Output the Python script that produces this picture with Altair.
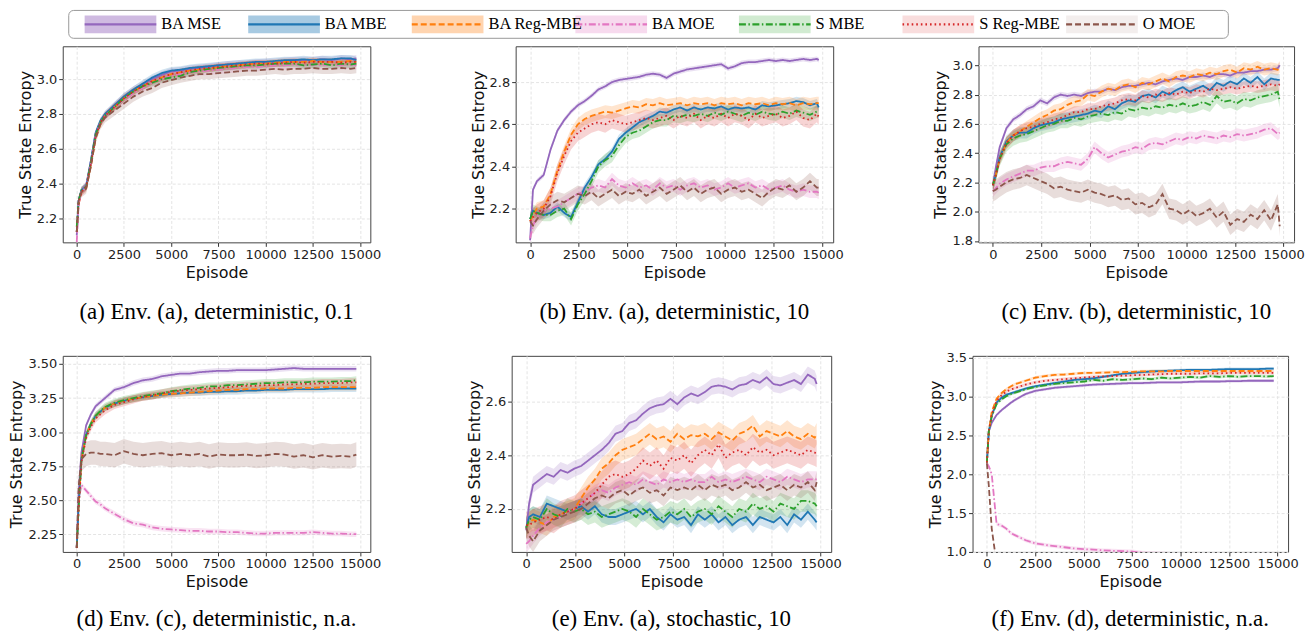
import altair as alt
import pandas as pd

SERIES = ["BA MSE", "BA MBE", "BA Reg-MBE", "BA MOE", "S MBE", "S Reg-MBE", "O MOE"]
COLORS = ["#9467bd", "#1f77b4", "#ff7f0e", "#e377c2", "#2ca02c", "#d62728", "#8c564b"]
DASHES = [[1, 0], [1, 0], [6, 3], [7, 2.5, 1.5, 2.5], [7, 2.5, 1.5, 2.5], [1.6, 3], [6, 3]]
LEGEND_BAND_OPACITY = [0.45, 0.1, 0.12, 0.3, 0.13, 0.15, 0.38]

X_TICKS = [0, 2500, 5000, 7500, 10000, 12500, 15000]

# smooth panels grid (a, d, f)
X_S = [0, 100, 250, 500, 750, 1000, 1250, 1500, 2000, 2500, 3000, 3500, 4000, 4500,
       5000, 5500, 6000, 6500, 7000, 7500, 8000, 8500, 9000, 9500, 10000, 10500,
       11000, 11500, 12000, 12500, 13000, 13500, 14000, 14500, 14800]
# noisy panels grid (b, c, e)
X_N = [0, 150, 350, 700, 1050, 1400, 1750, 2100, 2450, 2800, 3150, 3500, 3850, 4200,
       4550, 4900, 5250, 5600, 5950, 6300, 6650, 7000, 7350, 7700, 8050, 8400, 8750,
       9100, 9450, 9800, 10150, 10500, 10850, 11200, 11550, 11900, 12250, 12600,
       12950, 13300, 13650, 14000, 14350, 14700, 14800]

# ---------------- panel (a) ----------------
A_MSE = [2.10, 2.30, 2.36, 2.39, 2.53, 2.69, 2.75, 2.79, 2.85, 2.90, 2.94, 2.97, 3.00, 3.025,
         3.045, 3.05, 3.06, 3.065, 3.07, 3.08, 3.085, 3.09, 3.09, 3.095, 3.10, 3.10, 3.105,
         3.11, 3.11, 3.11, 3.115, 3.11, 3.12, 3.115, 3.12]
A_MBE = [2.12, 2.30, 2.36, 2.38, 2.53, 2.69, 2.76, 2.80, 2.85, 2.90, 2.94, 2.975, 3.01, 3.035,
         3.05, 3.055, 3.065, 3.07, 3.075, 3.08, 3.085, 3.09, 3.095, 3.10, 3.10, 3.105, 3.11,
         3.11, 3.115, 3.11, 3.115, 3.115, 3.12, 3.12, 3.11]
A_REG = [2.12, 2.28, 2.35, 2.37, 2.50, 2.66, 2.74, 2.79, 2.84, 2.89, 2.93, 2.96, 2.99, 3.01,
         3.03, 3.04, 3.05, 3.055, 3.06, 3.07, 3.075, 3.08, 3.085, 3.09, 3.09, 3.095, 3.10,
         3.10, 3.10, 3.105, 3.10, 3.10, 3.10, 3.105, 3.10]
A_MOE = [2.06, 2.28, 2.35, 2.38, 2.52, 2.68, 2.75, 2.79, 2.84, 2.88, 2.92, 2.95, 2.98, 3.00,
         3.02, 3.03, 3.04, 3.045, 3.05, 3.055, 3.06, 3.065, 3.07, 3.07, 3.075, 3.08, 3.08,
         3.085, 3.08, 3.085, 3.08, 3.085, 3.08, 3.085, 3.08]
A_SMBE = [2.15, 2.30, 2.36, 2.38, 2.52, 2.68, 2.75, 2.79, 2.84, 2.89, 2.93, 2.96, 2.98, 3.00,
          3.01, 3.02, 3.04, 3.05, 3.06, 3.065, 3.07, 3.075, 3.08, 3.08, 3.085, 3.09, 3.09,
          3.09, 3.08, 3.085, 3.09, 3.08, 3.09, 3.085, 3.09]
A_SREG = [2.12, 2.29, 2.35, 2.38, 2.51, 2.67, 2.75, 2.79, 2.84, 2.89, 2.93, 2.96, 2.99, 3.01,
          3.03, 3.04, 3.05, 3.06, 3.065, 3.07, 3.075, 3.08, 3.085, 3.09, 3.09, 3.09, 3.095,
          3.10, 3.095, 3.10, 3.10, 3.10, 3.095, 3.10, 3.10]
A_OMOE = [2.12, 2.30, 2.35, 2.37, 2.50, 2.66, 2.74, 2.78, 2.82, 2.86, 2.90, 2.93, 2.95, 2.98,
          2.995, 3.01, 3.02, 3.03, 3.03, 3.035, 3.04, 3.045, 3.05, 3.05, 3.055, 3.06, 3.055,
          3.06, 3.06, 3.065, 3.06, 3.06, 3.065, 3.06, 3.065]
A_BAND = [0.02, 0.02, 0.02, 0.025, 0.02, 0.02, 0.03]

# ---------------- panel (b) ----------------
B_MSE = [2.05, 2.29, 2.33, 2.36, 2.48, 2.57, 2.62, 2.66, 2.69, 2.71, 2.735, 2.765, 2.78, 2.80,
         2.81, 2.815, 2.82, 2.825, 2.835, 2.84, 2.835, 2.82, 2.84, 2.85, 2.86, 2.865, 2.87,
         2.875, 2.88, 2.885, 2.865, 2.875, 2.89, 2.895, 2.895, 2.90, 2.905, 2.90, 2.905, 2.90,
         2.905, 2.91, 2.905, 2.91, 2.905]
B_MBE = [2.15, 2.19, 2.18, 2.17, 2.18, 2.21, 2.18, 2.16, 2.23, 2.30, 2.35, 2.41, 2.435, 2.47,
         2.53, 2.56, 2.585, 2.61, 2.625, 2.64, 2.66, 2.655, 2.67, 2.68, 2.665, 2.68, 2.67,
         2.68, 2.675, 2.685, 2.67, 2.68, 2.675, 2.68, 2.67, 2.69, 2.685, 2.69, 2.695, 2.70,
         2.71, 2.705, 2.69, 2.70, 2.68]
B_REG = [2.14, 2.17, 2.20, 2.21, 2.27, 2.38, 2.47, 2.55, 2.60, 2.625, 2.64, 2.65, 2.66, 2.655,
         2.665, 2.675, 2.685, 2.68, 2.695, 2.69, 2.70, 2.69, 2.695, 2.70, 2.69, 2.70, 2.695,
         2.70, 2.69, 2.70, 2.695, 2.70, 2.69, 2.70, 2.695, 2.70, 2.69, 2.70, 2.695, 2.70,
         2.69, 2.70, 2.695, 2.70, 2.70]
B_MOE = [2.06, 2.12, 2.16, 2.19, 2.20, 2.21, 2.23, 2.25, 2.27, 2.28, 2.30, 2.31, 2.30, 2.34,
         2.31, 2.30, 2.32, 2.30, 2.31, 2.29, 2.32, 2.30, 2.31, 2.29, 2.31, 2.32, 2.30, 2.31,
         2.29, 2.30, 2.32, 2.30, 2.31, 2.32, 2.30, 2.31, 2.29, 2.30, 2.31, 2.29, 2.28, 2.29,
         2.28, 2.28, 2.275]
B_SMBE = [2.15, 2.19, 2.18, 2.17, 2.17, 2.19, 2.20, 2.15, 2.22, 2.27, 2.33, 2.40, 2.43, 2.45,
          2.50, 2.54, 2.56, 2.57, 2.59, 2.61, 2.62, 2.62, 2.64, 2.635, 2.645, 2.64, 2.65, 2.64,
          2.655, 2.645, 2.66, 2.65, 2.64, 2.655, 2.645, 2.66, 2.65, 2.645, 2.66, 2.65, 2.665,
          2.655, 2.645, 2.66, 2.66]
B_SREG = [2.14, 2.16, 2.18, 2.20, 2.26, 2.37, 2.45, 2.52, 2.56, 2.58, 2.60, 2.61, 2.60, 2.62,
          2.61, 2.60, 2.61, 2.62, 2.63, 2.62, 2.63, 2.64, 2.62, 2.64, 2.63, 2.65, 2.62, 2.64,
          2.63, 2.65, 2.63, 2.65, 2.64, 2.62, 2.65, 2.63, 2.64, 2.65, 2.63, 2.64, 2.66, 2.63,
          2.62, 2.65, 2.635]
B_OMOE = [2.14, 2.12, 2.15, 2.19, 2.22, 2.24, 2.23, 2.25, 2.27, 2.26, 2.28, 2.25, 2.27, 2.29,
          2.26, 2.28, 2.27, 2.29, 2.26, 2.28, 2.30, 2.27, 2.29, 2.31, 2.28, 2.30, 2.27, 2.29,
          2.30, 2.27, 2.29, 2.30, 2.28, 2.29, 2.27, 2.25, 2.28, 2.30, 2.29, 2.31, 2.28, 2.30,
          2.33, 2.30, 2.30]
B_BAND = [0.012, 0.02, 0.03, 0.03, 0.03, 0.04, 0.04]

# ---------------- panel (c) ----------------
C_MSE = [2.18, 2.30, 2.44, 2.57, 2.63, 2.66, 2.70, 2.72, 2.76, 2.74, 2.78, 2.80, 2.79, 2.80,
         2.79, 2.81, 2.82, 2.82, 2.84, 2.83, 2.85, 2.86, 2.86, 2.87, 2.88, 2.87, 2.89, 2.90,
         2.91, 2.90, 2.92, 2.92, 2.93, 2.92, 2.94, 2.94, 2.93, 2.95, 2.95, 2.96, 2.96, 2.97,
         2.97, 2.98, 3.00]
C_MBE = [2.18, 2.25, 2.37, 2.48, 2.52, 2.54, 2.54, 2.57, 2.59, 2.60, 2.61, 2.63, 2.64, 2.65,
         2.66, 2.67, 2.69, 2.68, 2.72, 2.70, 2.74, 2.76, 2.75, 2.79, 2.80, 2.78, 2.82, 2.80,
         2.83, 2.85, 2.82, 2.84, 2.86, 2.83, 2.88, 2.86, 2.89, 2.87, 2.91, 2.88, 2.92, 2.87,
         2.91, 2.90, 2.90]
C_REG = [2.18, 2.25, 2.36, 2.47, 2.52, 2.55, 2.58, 2.61, 2.64, 2.66, 2.69, 2.70, 2.73, 2.75,
         2.76, 2.80, 2.79, 2.82, 2.84, 2.83, 2.86, 2.87, 2.85, 2.88, 2.87, 2.89, 2.91, 2.89,
         2.92, 2.93, 2.92, 2.94, 2.93, 2.95, 2.94, 2.96, 2.97, 2.95, 2.98, 2.97, 2.99, 2.97,
         2.98, 2.97, 2.99]
C_MOE = [2.14, 2.16, 2.19, 2.22, 2.24, 2.26, 2.28, 2.28, 2.30, 2.31, 2.31, 2.33, 2.34, 2.33,
         2.32, 2.36, 2.44, 2.40, 2.37, 2.39, 2.41, 2.42, 2.44, 2.43, 2.46, 2.47, 2.46, 2.48,
         2.50, 2.49, 2.51, 2.50, 2.52, 2.51, 2.50, 2.52, 2.51, 2.53, 2.52, 2.53, 2.54, 2.56,
         2.57, 2.53, 2.54]
C_SMBE = [2.18, 2.25, 2.36, 2.46, 2.50, 2.52, 2.53, 2.55, 2.57, 2.59, 2.60, 2.62, 2.62, 2.64,
          2.63, 2.65, 2.66, 2.67, 2.66, 2.68, 2.67, 2.70, 2.69, 2.71, 2.70, 2.72, 2.71, 2.73,
          2.72, 2.74, 2.72, 2.73, 2.75, 2.73, 2.79, 2.75, 2.76, 2.74, 2.77, 2.76, 2.78, 2.79,
          2.80, 2.82, 2.76]
C_SREG = [2.18, 2.25, 2.36, 2.47, 2.52, 2.55, 2.57, 2.58, 2.60, 2.61, 2.63, 2.64, 2.66, 2.68,
          2.68, 2.70, 2.70, 2.72, 2.73, 2.74, 2.76, 2.77, 2.76, 2.79, 2.78, 2.80, 2.79, 2.81,
          2.80, 2.82, 2.81, 2.83, 2.82, 2.84, 2.83, 2.84, 2.85, 2.84, 2.85, 2.86, 2.85, 2.86,
          2.87, 2.86, 2.87]
C_OMOE = [2.14, 2.15, 2.17, 2.20, 2.22, 2.23, 2.25, 2.23, 2.21, 2.19, 2.16, 2.17, 2.15, 2.14,
          2.13, 2.15, 2.13, 2.12, 2.10, 2.11, 2.08, 2.09, 2.05, 2.06, 2.03, 2.05, 2.12, 2.02,
          2.01, 1.98, 2.01, 1.97, 1.99, 2.02, 1.96, 2.00, 1.91, 1.95, 1.93, 1.98, 1.95, 2.01,
          1.94, 2.05, 1.90]
C_BAND = [0.02, 0.04, 0.04, 0.04, 0.05, 0.04, 0.07]

# ---------------- panel (d) ----------------
D_MSE = [2.15, 2.55, 2.85, 3.05, 3.13, 3.19, 3.22, 3.25, 3.31, 3.33, 3.36, 3.38, 3.39, 3.41,
         3.42, 3.43, 3.43, 3.44, 3.445, 3.45, 3.45, 3.455, 3.455, 3.455, 3.455, 3.46, 3.465,
         3.47, 3.465, 3.465, 3.465, 3.465, 3.465, 3.465, 3.465]
D_MBE = [2.15, 2.45, 2.80, 2.98, 3.06, 3.12, 3.15, 3.18, 3.21, 3.23, 3.245, 3.255, 3.265, 3.275,
         3.28, 3.285, 3.29, 3.29, 3.295, 3.295, 3.30, 3.30, 3.305, 3.305, 3.31, 3.31, 3.31,
         3.315, 3.315, 3.315, 3.315, 3.32, 3.32, 3.32, 3.32]
D_REG = [2.15, 2.45, 2.80, 2.98, 3.06, 3.12, 3.15, 3.18, 3.21, 3.23, 3.245, 3.255, 3.265, 3.275,
         3.28, 3.285, 3.29, 3.295, 3.30, 3.305, 3.31, 3.31, 3.315, 3.315, 3.32, 3.32, 3.32,
         3.325, 3.325, 3.325, 3.33, 3.33, 3.33, 3.33, 3.33]
D_MOE = [2.15, 2.50, 2.61, 2.57, 2.53, 2.49, 2.47, 2.44, 2.40, 2.36, 2.33, 2.32, 2.30, 2.29,
         2.285, 2.28, 2.275, 2.275, 2.27, 2.27, 2.265, 2.265, 2.26, 2.255, 2.255, 2.26, 2.26,
         2.26, 2.26, 2.265, 2.26, 2.255, 2.255, 2.25, 2.25]
D_SMBE = [2.15, 2.45, 2.80, 2.98, 3.06, 3.12, 3.155, 3.185, 3.215, 3.235, 3.25, 3.265, 3.275,
          3.285, 3.30, 3.31, 3.32, 3.325, 3.335, 3.335, 3.345, 3.345, 3.35, 3.355, 3.36, 3.36,
          3.365, 3.365, 3.365, 3.37, 3.37, 3.37, 3.375, 3.375, 3.38]
D_SREG = [2.15, 2.43, 2.78, 2.96, 3.04, 3.10, 3.13, 3.16, 3.20, 3.22, 3.24, 3.26, 3.27, 3.285,
          3.295, 3.305, 3.31, 3.315, 3.32, 3.325, 3.33, 3.335, 3.34, 3.34, 3.345, 3.345, 3.35,
          3.35, 3.355, 3.355, 3.36, 3.36, 3.36, 3.365, 3.365]
D_OMOE = [2.15, 2.60, 2.80, 2.84, 2.85, 2.85, 2.84, 2.84, 2.83, 2.86, 2.84, 2.83, 2.84, 2.845,
          2.83, 2.84, 2.83, 2.84, 2.82, 2.835, 2.83, 2.83, 2.835, 2.825, 2.83, 2.84, 2.835,
          2.82, 2.83, 2.815, 2.83, 2.82, 2.825, 2.82, 2.835]
D_BAND = [0.02, 0.025, 0.025, 0.02, 0.03, 0.03, 0.09]

# ---------------- panel (e) ----------------
E_MSE = [2.12, 2.22, 2.29, 2.31, 2.33, 2.32, 2.345, 2.335, 2.35, 2.36, 2.38, 2.40, 2.42, 2.445,
         2.48, 2.49, 2.52, 2.53, 2.555, 2.575, 2.585, 2.59, 2.61, 2.59, 2.615, 2.63, 2.62,
         2.635, 2.655, 2.66, 2.655, 2.645, 2.66, 2.665, 2.68, 2.67, 2.69, 2.665, 2.66, 2.67,
         2.68, 2.665, 2.70, 2.685, 2.665]
E_MBE = [2.13, 2.17, 2.18, 2.17, 2.22, 2.21, 2.20, 2.19, 2.20, 2.21, 2.19, 2.21, 2.18, 2.17,
         2.17, 2.18, 2.19, 2.20, 2.18, 2.20, 2.17, 2.15, 2.18, 2.16, 2.17, 2.14, 2.18, 2.16,
         2.18, 2.15, 2.17, 2.14, 2.16, 2.17, 2.14, 2.17, 2.16, 2.15, 2.17, 2.14, 2.18, 2.16,
         2.19, 2.16, 2.15]
E_REG = [2.13, 2.15, 2.16, 2.15, 2.14, 2.17, 2.18, 2.19, 2.20, 2.24, 2.28, 2.31, 2.35, 2.37,
         2.40, 2.42, 2.43, 2.44, 2.46, 2.48, 2.46, 2.47, 2.45, 2.48, 2.46, 2.475, 2.47, 2.48,
         2.46, 2.485, 2.47, 2.455, 2.48, 2.49, 2.51, 2.47, 2.49, 2.48, 2.47, 2.49, 2.47, 2.46,
         2.48, 2.465, 2.48]
E_MOE = [2.07, 2.08, 2.10, 2.13, 2.15, 2.16, 2.17, 2.19, 2.20, 2.22, 2.24, 2.26, 2.27, 2.26,
         2.28, 2.29, 2.30, 2.29, 2.31, 2.30, 2.29, 2.31, 2.30, 2.31, 2.30, 2.31, 2.30, 2.30,
         2.32, 2.30, 2.31, 2.30, 2.31, 2.32, 2.31, 2.30, 2.32, 2.31, 2.30, 2.32, 2.31, 2.30,
         2.31, 2.31, 2.31]
E_SMBE = [2.13, 2.16, 2.17, 2.16, 2.20, 2.18, 2.17, 2.20, 2.19, 2.20, 2.18, 2.19, 2.17, 2.18,
          2.19, 2.20, 2.19, 2.17, 2.20, 2.18, 2.16, 2.17, 2.19, 2.18, 2.20, 2.17, 2.19, 2.20,
          2.18, 2.21, 2.19, 2.17, 2.20, 2.19, 2.22, 2.20, 2.21, 2.19, 2.22, 2.21, 2.20, 2.23,
          2.23, 2.22, 2.21]
E_SREG = [2.14, 2.14, 2.15, 2.16, 2.17, 2.16, 2.18, 2.19, 2.20, 2.22, 2.24, 2.26, 2.29, 2.32,
          2.33, 2.32, 2.33, 2.35, 2.38, 2.36, 2.38, 2.35, 2.39, 2.38, 2.40, 2.37, 2.40, 2.42,
          2.40, 2.44, 2.39, 2.41, 2.42, 2.40, 2.43, 2.41, 2.42, 2.40, 2.41, 2.42, 2.41, 2.40,
          2.42, 2.41, 2.405]
E_OMOE = [2.13, 2.10, 2.08, 2.12, 2.14, 2.16, 2.17, 2.18, 2.19, 2.20, 2.22, 2.24, 2.25, 2.24,
          2.26, 2.27, 2.25, 2.27, 2.28, 2.26, 2.27, 2.25, 2.28, 2.27, 2.28, 2.27, 2.29, 2.27,
          2.29, 2.28, 2.29, 2.27, 2.28, 2.30, 2.28, 2.29, 2.27, 2.28, 2.29, 2.27, 2.29, 2.28,
          2.30, 2.27, 2.30]
E_BAND = [0.03, 0.03, 0.04, 0.03, 0.04, 0.05, 0.04]

# ---------------- panel (f) ----------------
F_MSE = [2.15, 2.55, 2.66, 2.76, 2.82, 2.87, 2.92, 2.96, 3.03, 3.07, 3.09, 3.11, 3.12, 3.13,
         3.14, 3.15, 3.155, 3.16, 3.165, 3.17, 3.17, 3.175, 3.18, 3.18, 3.18, 3.185, 3.19,
         3.19, 3.19, 3.195, 3.195, 3.20, 3.20, 3.20, 3.20]
F_MBE = [2.15, 2.55, 2.75, 2.92, 2.98, 3.02, 3.04, 3.06, 3.10, 3.13, 3.15, 3.17, 3.19, 3.21,
         3.22, 3.23, 3.25, 3.27, 3.29, 3.30, 3.31, 3.32, 3.325, 3.33, 3.335, 3.34, 3.34, 3.34,
         3.345, 3.35, 3.35, 3.35, 3.35, 3.355, 3.355]
F_REG = [2.15, 2.55, 2.80, 2.97, 3.04, 3.09, 3.13, 3.16, 3.20, 3.24, 3.26, 3.275, 3.28, 3.29,
         3.30, 3.30, 3.305, 3.31, 3.31, 3.315, 3.32, 3.32, 3.32, 3.325, 3.325, 3.325, 3.325,
         3.325, 3.325, 3.325, 3.325, 3.325, 3.325, 3.325, 3.325]
F_MOE = [2.14, 2.10, 2.00, 1.36, 1.34, 1.30, 1.24, 1.21, 1.15, 1.11, 1.09, 1.075, 1.06, 1.045,
         1.035, 1.03, 1.02, 1.015, 1.01, 1.005, 0.99, 0.985, 0.98, 0.975, 0.97, 0.965, 0.96,
         0.955, 0.95, 0.95, 0.945, 0.94, 0.94, 0.935, 0.935]
F_SMBE = [2.15, 2.55, 2.74, 2.90, 2.96, 3.00, 3.03, 3.05, 3.09, 3.12, 3.14, 3.16, 3.17, 3.18,
          3.19, 3.21, 3.20, 3.22, 3.21, 3.22, 3.23, 3.22, 3.24, 3.23, 3.24, 3.25, 3.24, 3.26,
          3.25, 3.26, 3.25, 3.26, 3.26, 3.255, 3.26]
F_SREG = [2.15, 2.55, 2.77, 2.94, 3.01, 3.06, 3.09, 3.11, 3.15, 3.18, 3.20, 3.21, 3.22, 3.23,
          3.24, 3.25, 3.255, 3.26, 3.265, 3.27, 3.275, 3.28, 3.285, 3.29, 3.29, 3.29, 3.295,
          3.295, 3.295, 3.30, 3.30, 3.30, 3.30, 3.30, 3.30]
F_OMOE = [2.14, 1.85, 1.30, 0.85, 0.70, 0.65, 0.62, 0.60, 0.58, 0.57, 0.56, 0.55, 0.55, 0.54,
          0.54, 0.53, 0.53, 0.53, 0.52, 0.52, 0.52, 0.52, 0.51, 0.51, 0.51, 0.51, 0.51, 0.50,
          0.50, 0.50, 0.50, 0.50, 0.50, 0.50, 0.50]
F_BAND = [0.02, 0.02, 0.02, 0.025, 0.02, 0.02, 0.02]

PANELS = [
    dict(cap="(a)  Env. (a), deterministic, 0.1", x=X_S, ydom=[2.06, 3.19],
         yticks=[2.2, 2.4, 2.6, 2.8, 3.0], fmt=".1f", w=309, h=197, off=21,
         vals=[A_MSE, A_MBE, A_REG, A_MOE, A_SMBE, A_SREG, A_OMOE], band=A_BAND),
    dict(cap="(b)  Env. (a), deterministic, 10", x=X_N, ydom=[2.04, 2.97],
         yticks=[2.2, 2.4, 2.6, 2.8], fmt=".1f", w=319, h=197, off=21,
         vals=[B_MSE, B_MBE, B_REG, B_MOE, B_SMBE, B_SREG, B_OMOE], band=B_BAND),
    dict(cap="(c)  Env. (b), deterministic, 10", x=X_N, ydom=[1.79, 3.13],
         yticks=[1.8, 2.0, 2.2, 2.4, 2.6, 2.8, 3.0], fmt=".1f", w=317, h=197, off=21,
         vals=[C_MSE, C_MBE, C_REG, C_MOE, C_SMBE, C_SREG, C_OMOE], band=C_BAND),
    dict(cap="(d)  Env. (c), deterministic, n.a.", x=X_S, ydom=[2.12, 3.56],
         yticks=[2.25, 2.5, 2.75, 3.0, 3.25, 3.5], fmt=".2f", w=309, h=197, off=18,
         vals=[D_MSE, D_MBE, D_REG, D_MOE, D_SMBE, D_SREG, D_OMOE], band=D_BAND),
    dict(cap="(e)  Env. (a), stochastic, 10", x=X_N, ydom=[2.04, 2.77],
         yticks=[2.2, 2.4, 2.6], fmt=".1f", w=321, h=197, off=18,
         vals=[E_MSE, E_MBE, E_REG, E_MOE, E_SMBE, E_SREG, E_OMOE], band=E_BAND),
    dict(cap="(f)  Env. (d), deterministic, n.a.", x=X_S, ydom=[1.0, 3.52],
         yticks=[1.0, 1.5, 2.0, 2.5, 3.0, 3.5], fmt=".1f", w=317, h=197, off=18,
         vals=[F_MSE, F_MBE, F_REG, F_MOE, F_SMBE, F_SREG, F_OMOE], band=F_BAND),
]

color_scale = alt.Scale(domain=SERIES, range=COLORS)
dash_scale = alt.Scale(domain=SERIES, range=DASHES)


def make_panel(p):
    rows = []
    for s, ys, bw in zip(SERIES, p["vals"], p["band"]):
        assert len(ys) == len(p["x"]), (p["cap"], s, len(ys))
        for xv, yv in zip(p["x"], ys):
            rows.append({"x": xv, "y": yv, "lo": yv - bw, "hi": yv + bw, "series": s})
    df = pd.DataFrame(rows)
    xsc = alt.Scale(domain=[-740, 15540], nice=False, zero=False)
    ysc = alt.Scale(domain=p["ydom"], nice=False, zero=False)
    xax = alt.Axis(values=X_TICKS, format="d", title="Episode")
    yax = alt.Axis(values=p["yticks"], format=p["fmt"], title="True State Entropy")
    base = alt.Chart(df)
    band = base.mark_area(opacity=0.2, clip=True).encode(
        x=alt.X("x:Q", scale=xsc, axis=xax),
        y=alt.Y("lo:Q", scale=ysc, axis=yax),
        y2="hi:Q",
        color=alt.Color("series:N", scale=color_scale, legend=None),
    )
    line = base.mark_line(strokeWidth=1.8, clip=True).encode(
        x=alt.X("x:Q", scale=xsc, axis=xax),
        y=alt.Y("y:Q", scale=ysc, axis=yax),
        color=alt.Color("series:N", scale=color_scale, legend=None),
        strokeDash=alt.StrokeDash("series:N", scale=dash_scale, legend=None),
    )
    return alt.layer(band, line).properties(
        width=p["w"], height=p["h"],
        title=alt.TitleParams(p["cap"], orient="bottom", anchor="middle",
                              font="Liberation Serif", fontSize=23, fontWeight="normal",
                              color="black", offset=p["off"]),
    )


panels = [make_panel(p) for p in PANELS]

# ---------------- legend ----------------
leg_df = pd.DataFrame({"series": SERIES})
leg_x = alt.X("series:N",
              scale=alt.Scale(type="point", domain=SERIES, range=[22, 1008], padding=0),
              axis=None)
box = alt.Chart(pd.DataFrame({"b": [0]})).mark_rect(
    fill="white", stroke="#999999", strokeWidth=1, cornerRadius=5
).encode(x=alt.value(6), x2=alt.value(1171), y=alt.value(0), y2=alt.value(28))
leg_band = alt.Chart(leg_df).mark_rect(x2Offset=72).encode(
    x=leg_x, x2=alt.X2("series:N"), y=alt.value(5), y2=alt.value(23),
    color=alt.Color("series:N", scale=color_scale, legend=None),
    opacity=alt.Opacity("series:N", scale=alt.Scale(domain=SERIES, range=LEGEND_BAND_OPACITY),
                        legend=None),
)
leg_line = alt.Chart(leg_df).mark_rule(strokeWidth=2.5, x2Offset=72).encode(
    x=leg_x, x2=alt.X2("series:N"), y=alt.value(14),
    color=alt.Color("series:N", scale=color_scale, legend=None),
    strokeDash=alt.StrokeDash("series:N", scale=dash_scale, legend=None),
)
leg_text = alt.Chart(leg_df).mark_text(
    align="left", baseline="middle", dx=77, font="Liberation Serif", fontSize=16.5,
    color="black"
).encode(x=leg_x, y=alt.value(14), text="series:N")
legend = alt.layer(box, leg_band, leg_line, leg_text).properties(
    width=1171, height=28, view=alt.ViewBackground(stroke="transparent")
)

row1 = alt.hconcat(panels[0], panels[1], panels[2], spacing=88)
row2 = alt.hconcat(panels[3], panels[4], panels[5], spacing=84)
grid = alt.vconcat(row1, row2, spacing=26)
chart = alt.vconcat(legend, grid, spacing=6).properties(
    padding={"left": 0, "top": 0, "right": 0, "bottom": 0}
).configure_axis(
    labelFont="DejaVu Sans", titleFont="DejaVu Sans", labelFontSize=13, titleFontSize=16,
    titleFontWeight="normal", labelColor="#222222", titleColor="#111111",
    tickColor="#333333", tickSize=4, domain=False, gridColor="#e4e4e4", gridDash=[3, 2],
    labelPadding=2, titlePadding=3,
).configure_view(stroke="#444444", strokeWidth=1)

chart.save("out.html", embed_options={"renderer": "svg", "actions": False})
